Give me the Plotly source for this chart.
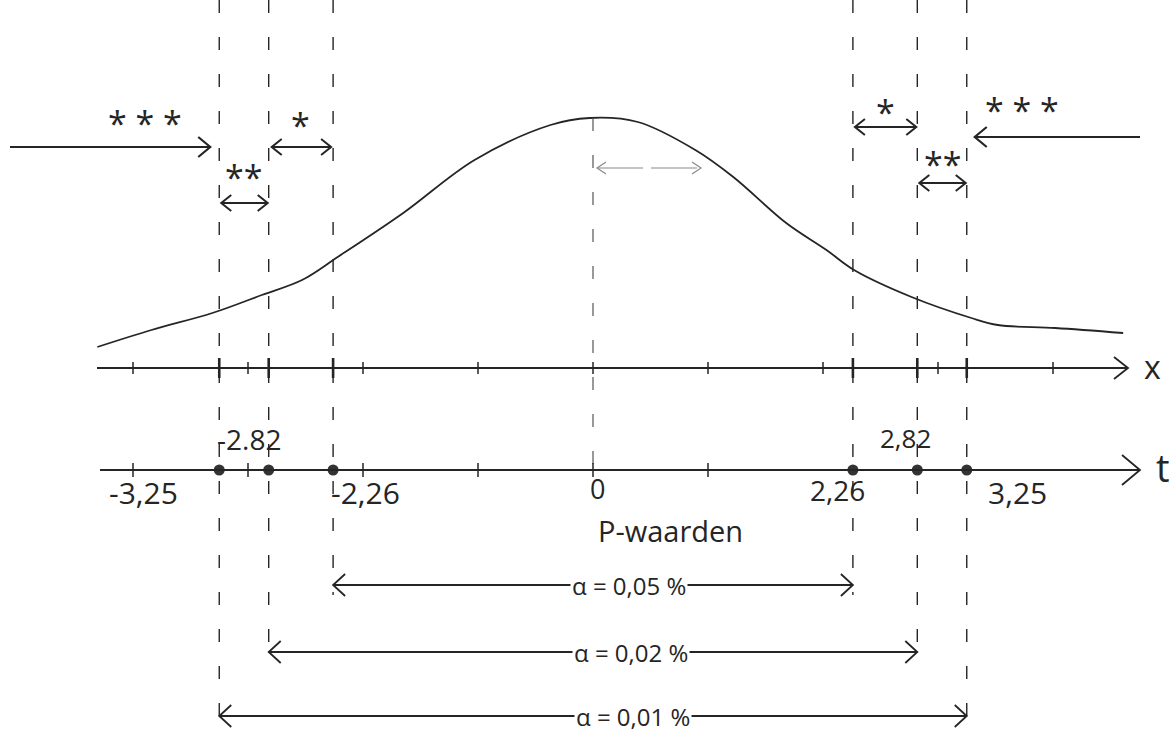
import plotly.graph_objects as go

# ---------------------------------------------------------------------------
# Data: Student t-distribution (df = 9), two-sided critical values
# ---------------------------------------------------------------------------
t_crit = [2.26, 2.82, 3.25]
star_labels = ["*", "**", "***"]
alpha_labels = ["α = 0,05 %", "α = 0,02 %", "α = 0,01 %"]
neg_crit_labels = ["-2,26", "-2.82", "-3,25"]
pos_crit_labels = ["2,26", "2,82", "3,25"]

x_axis_ticks = [-4, -3, -2, -1, 0, 1, 2, 3, 4]
t_axis_ticks = [-4, -3, -2, -1, 0, 1]

# sketched bell curve (t, height)
curve_t = [-4.31, -3.84, -3.31, -2.88, -2.53, -2.22, -1.65, -1.03, -0.37, -0.03,
           0.39, 0.89, 1.22, 1.68, 2.03, 2.27, 2.77, 3.29, 3.52, 4.02, 4.61]
curve_h = [388, 405, 422, 440, 455, 478, 522, 575, 610, 617,
           613, 585, 558, 512, 485, 465, 438, 417, 410, 407, 402]

# ---------------------------------------------------------------------------
# Layout constants
# ---------------------------------------------------------------------------
W, H = 1174, 735
PX_PER_T = 115.0
T_ORIGIN_PX = 593.0
X_RANGE = [-T_ORIGIN_PX / PX_PER_T, (W - T_ORIGIN_PX) / PX_PER_T]

X_AXIS_Y = 367      # height of the x axis
T_AXIS_Y = 265      # height of the t axis
ALPHA_ROWS = [150, 83, 19]
INK = "#252525"
FONT = "Open Sans"


def px(n):
    """horizontal pixel distance expressed in t units"""
    return n / PX_PER_T


shapes = []


def seg(x0, y0, x1, y1, width=1.8, color=INK, dash=None):
    line = dict(color=color, width=width)
    if dash:
        line["dash"] = dash
    shapes.append(dict(type="line", xref="x", yref="y", x0=x0, y0=y0, x1=x1, y1=y1,
                       line=line, layer="above"))


def chevron(xt, yh, direction, length=10, spread=8, width=1.8, color=INK):
    xb = xt - direction * px(length)
    shapes.append(dict(type="path", xref="x", yref="y",
                       path=f"M {xb} {yh + spread} L {xt} {yh} L {xb} {yh - spread}",
                       line=dict(color=color, width=width), layer="above"))


def arrow(xa, xb, yh, heads=(True, True), width=1.8, color=INK, dash=None, length=10, spread=8):
    seg(xa, yh, xb, yh, width=width, color=color, dash=dash)
    if heads[0]:
        chevron(xa, yh, -1, length, spread, width, color)
    if heads[1]:
        chevron(xb, yh, 1, length, spread, width, color)


annotations = []


def label(x, y, text, size=28, xshift=0, yshift=0, bg=None):
    a = dict(x=x, y=y, xref="x", yref="y", text=text, showarrow=False,
             xshift=xshift, yshift=yshift, xanchor="center", yanchor="middle",
             font=dict(family=FONT, size=size, color=INK))
    if bg:
        a["bgcolor"] = bg
    annotations.append(a)


# ---------------------------------------------------------------------------
# Dashed guide lines
# ---------------------------------------------------------------------------
GUIDE_DASH = "13px,24px"
for i, c in enumerate(t_crit):
    bottom = ALPHA_ROWS[i] - 10
    seg(-c, H, -c, bottom, width=1.4, dash=GUIDE_DASH)
    seg(c, H, c, bottom, width=1.4, dash=GUIDE_DASH)
seg(0, max(curve_h), 0, T_AXIS_Y, width=1.2, color="#555", dash=GUIDE_DASH)

# ---------------------------------------------------------------------------
# x axis and t axis
# ---------------------------------------------------------------------------
arrow(px(97 - T_ORIGIN_PX), px(1128 - T_ORIGIN_PX), X_AXIS_Y, heads=(False, True),
      length=14, spread=11)
for v in x_axis_ticks:
    seg(v, X_AXIS_Y - 6, v, X_AXIS_Y + 6, width=1.5)
for c in t_crit:
    for s in (-1, 1):
        seg(s * c, X_AXIS_Y - 10, s * c, X_AXIS_Y + 10, width=2.6)

arrow(px(100 - T_ORIGIN_PX), px(1140 - T_ORIGIN_PX), T_AXIS_Y, heads=(False, True),
      length=18, spread=15)
for v in t_axis_ticks:
    seg(v, T_AXIS_Y - 7, v, T_AXIS_Y + 7, width=1.5)

label(px(1152 - T_ORIGIN_PX), X_AXIS_Y, "x", size=32, yshift=2)
label(px(1163 - T_ORIGIN_PX), T_AXIS_Y, "t", size=38, yshift=3)

# critical value labels on the t axis
label(-t_crit[2], T_AXIS_Y, neg_crit_labels[2], size=30, xshift=-76, yshift=-22)
label(-t_crit[1], T_AXIS_Y, neg_crit_labels[1], size=28, xshift=-20, yshift=31)
label(-t_crit[0], T_AXIS_Y, neg_crit_labels[0], size=30, xshift=32, yshift=-22)
label(0, T_AXIS_Y, "0", size=27, xshift=4, yshift=-18)
label(t_crit[0], T_AXIS_Y, pos_crit_labels[0], size=28, xshift=-15, yshift=-20)
label(t_crit[1], T_AXIS_Y, pos_crit_labels[1], size=26, xshift=-12, yshift=32)
label(t_crit[2], T_AXIS_Y, pos_crit_labels[2], size=30, xshift=51, yshift=-22)
label(0, T_AXIS_Y, "P-waarden", size=29, xshift=77, yshift=-60)

# ---------------------------------------------------------------------------
# Significance regions (top) and alpha spans (bottom)
# ---------------------------------------------------------------------------
# left side
arrow(px(10 - T_ORIGIN_PX), -t_crit[2] - px(9), 588, heads=(False, True), width=2.2,
      length=12, spread=10)
label(-t_crit[2] - px(74), 612, "* * *", size=34)
arrow(-t_crit[2] + px(2), -t_crit[1] - px(1), 532, width=2.0)
label((-t_crit[2] - t_crit[1]) / 2, 558, "**", size=34)
arrow(-t_crit[1] + px(3), -t_crit[0] - px(2), 588, width=2.0)
label((-t_crit[1] - t_crit[0]) / 2, 610, "*", size=34)

# right side
arrow(t_crit[0] + px(2), t_crit[1] - px(1), 608, width=2.0)
label((t_crit[0] + t_crit[1]) / 2, 623, "*", size=34)
arrow(t_crit[1] + px(2), t_crit[2] - px(1), 552, width=2.0)
label((t_crit[1] + t_crit[2]) / 2, 571, "**", size=34)
arrow(t_crit[2] + px(8), px(1140 - T_ORIGIN_PX), 598, heads=(True, False), width=2.2,
      length=12, spread=10)
label(t_crit[2] + px(55), 625, "* * *", size=34)

# small spread arrow under the peak
arrow(px(4), px(108), 567, width=1.2, color="#8a8a8a", dash="46px,8px", length=9, spread=6)

# alpha spans
for i, c in enumerate(t_crit):
    arrow(-c, c, ALPHA_ROWS[i], width=1.8, length=12, spread=11)
    label(0, ALPHA_ROWS[i], alpha_labels[i], size=24, xshift=36 + 2 * i, bg="white")

# ---------------------------------------------------------------------------
fig = go.Figure()
fig.add_trace(go.Scatter(x=curve_t, y=curve_h, mode="lines",
                         line=dict(color=INK, width=1.8, shape="spline", smoothing=1.0),
                         hoverinfo="skip", showlegend=False))

# critical values marked on the t axis
dot_t = [-c for c in t_crit] + t_crit
fig.add_trace(go.Scatter(x=dot_t, y=[T_AXIS_Y] * len(dot_t), mode="markers",
                         marker=dict(color="#333", size=11, line=dict(width=0)),
                         hoverinfo="skip", showlegend=False))

fig.update_layout(
    width=W, height=H,
    margin=dict(l=0, r=0, t=0, b=0),
    paper_bgcolor="white", plot_bgcolor="white",
    xaxis=dict(range=X_RANGE, visible=False, fixedrange=True),
    yaxis=dict(range=[0, H], visible=False, fixedrange=True),
    shapes=shapes, annotations=annotations,
    showlegend=False,
)

fig.write_html("out.html")
